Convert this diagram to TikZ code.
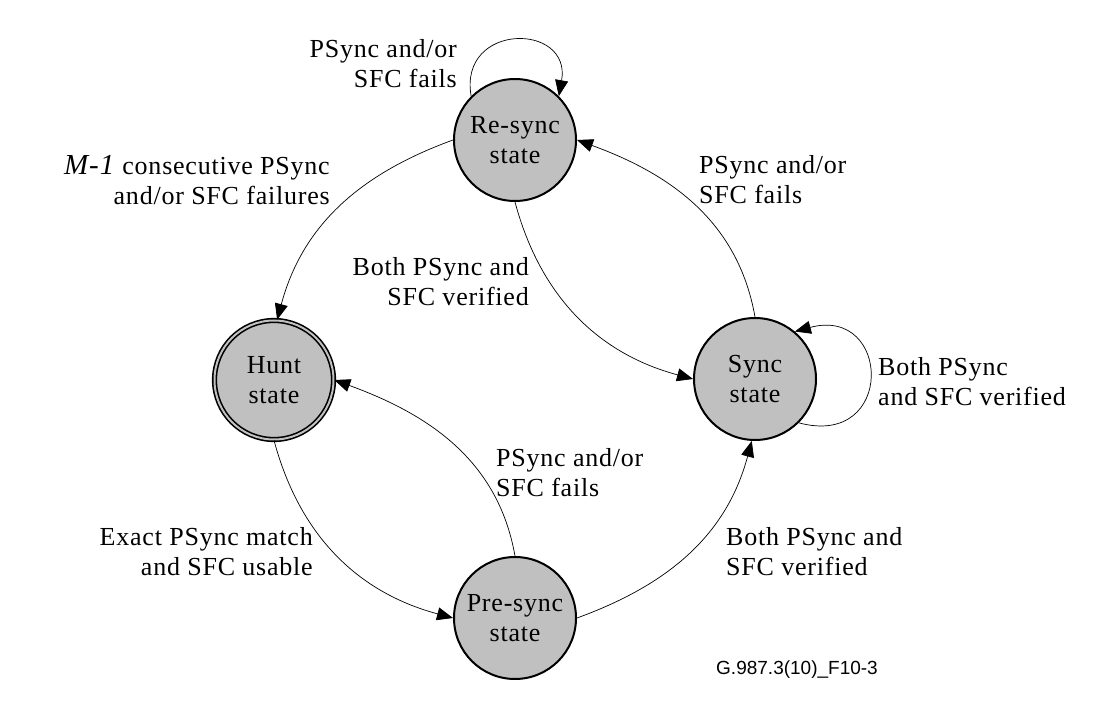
\documentclass[tikz,border=0pt]{standalone}
\usepackage{fontspec}
\setmainfont{Liberation Serif}[LetterSpace=3]
\newfontfamily\figidfont{Liberation Sans}
\usetikzlibrary{arrows.meta}
\definecolor{stategray}{RGB}{192,192,192}

\begin{document}
\begin{tikzpicture}[x=1pt,y=1pt,
	state/.style={circle,draw=black,fill=stategray,line width=2pt,minimum size=122pt,inner sep=0pt,align=center,font=\fontsize{26}{30}\selectfont},
	lbl/.style={inner sep=0pt,font=\fontsize{26}{30}\selectfont},
	arr/.style={-{Triangle[length=16pt,width=13pt]},line width=0.7pt}]
		\useasboundingbox (0,0) rectangle (1119,-711);
		
		% states
		\node[state] (resync) at (515,-140) {Re-sync\\state};
		\node[state,double=stategray,double distance=2pt,line width=1.6pt,minimum size=119pt] (hunt) at (274,-380) {Hunt\\state};
		\node[state] (sync) at (755,-379) {Sync\\state};
		\node[state] (presync) at (515,-618) {Pre-sync\\state};
		
		% transitions
		\draw[arr] (resync.135) to[out=100,in=80,looseness=2.2] (resync.45);
		\draw[arr] (resync.180) to[out=200,in=75] (hunt.87);
		\draw[arr] (resync.-90) to[out=-75,in=165] (sync.180);
		\draw[arr] (sync.90) to[out=100,in=-20] (resync.0);
		\draw[arr] (sync.-45) to[out=-15,in=15,looseness=2.8] (sync.50);
		\draw[arr] (presync.90) to[out=100,in=-20] (hunt.0);
		\draw[arr] (hunt.-90) to[out=-75,in=165] (presync.180);
		\draw[arr] (presync.0) to[out=20,in=255] (sync.-93);
		
		% labels
		\node[lbl,anchor=east,align=right] (lresloop) at (457,-64) {PSync and/or\\SFC fails};
		\node[lbl,anchor=east,align=right] (lreshunt) at (330,-180) {{\fontsize{29}{30}\selectfont\textit{M-1}} consecutive PSync\\and/or SFC failures};
		\node[lbl,anchor=east,align=right] (lressync) at (529,-282) {Both PSync and\\SFC verified};
		\node[lbl,anchor=west,align=left] (lsyncres) at (699,-180) {PSync and/or\\SFC fails};
		\node[lbl,anchor=west,align=left] (lsyncloop) at (878,-382) {Both PSync\\and SFC verified};
		\node[lbl,anchor=west,align=left] (lprehunt) at (496,-473) {PSync and/or\\SFC fails};
		\node[lbl,anchor=east,align=right] (lhuntpre) at (313,-552) {Exact PSync match\\and SFC usable};
		\node[lbl,anchor=west,align=left] (lpresync) at (726,-552) {Both PSync and\\SFC verified};
		
		\node[inner sep=0pt,font=\figidfont\fontsize{19}{22}\selectfont] (figid) at (797,-670) {G.987.3(10)\_F10-3};
	\end{tikzpicture}
\end{document}
